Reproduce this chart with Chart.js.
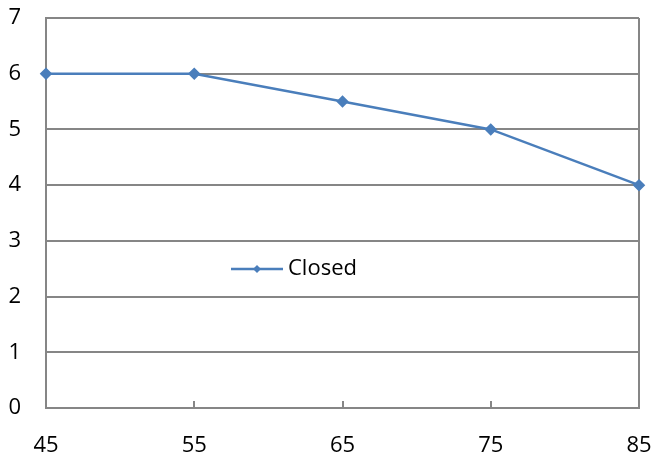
<!DOCTYPE html>
<html><head><meta charset="utf-8">
<script src="https://cdn.jsdelivr.net/npm/chart.js@4"></script>
<style>html,body{margin:0;padding:0;background:#fff}#wrap{width:654px;height:462px}</style>
</head><body><div id="wrap"><canvas id="c" width="654" height="462"></canvas></div>
<script>
const xValues = [45, 55, 65, 75, 85];
const closedValues = [6, 6, 5.5, 5, 4];
const seriesName = 'Closed';
const xTicks = [45, 55, 65, 75, 85];
const yTicks = [0, 1, 2, 3, 4, 5, 6, 7];

const FONT = "'Open Sans', sans-serif";
const LINE = '#4A7EBB';
const GRID = '#868686';

const innerTicks = {
  id: 'innerTicks',
  afterDatasetsDraw(chart) {
    const c = chart.ctx, xs = chart.scales.x, a = chart.chartArea;
    c.save();
    c.strokeStyle = GRID; c.lineWidth = 2;
    xTicks.slice(1, -1).forEach(v => {
      const px = Math.round(xs.getPixelForValue(v));
      c.beginPath(); c.moveTo(px, a.bottom); c.lineTo(px, a.bottom - 7); c.stroke();
    });
    c.restore();
  }
};

const insideLegend = {
  id: 'insideLegend',
  afterDraw(chart) {
    const c = chart.ctx;
    const y = 269, x0 = 231, x1 = 283;
    c.save();
    c.strokeStyle = LINE; c.lineWidth = 2.5;
    c.beginPath(); c.moveTo(x0, y); c.lineTo(x1, y); c.stroke();
    c.fillStyle = LINE;
    const cx = (x0 + x1) / 2, r = 4;
    c.beginPath(); c.moveTo(cx, y - r); c.lineTo(cx + r, y); c.lineTo(cx, y + r); c.lineTo(cx - r, y); c.closePath(); c.fill();
    c.fillStyle = '#000'; c.font = '22px ' + FONT; c.textBaseline = 'middle'; c.textAlign = 'left';
    c.fillText(seriesName, 288, y);
    c.restore();
  }
};

new Chart(document.getElementById('c'), {
  type: 'line',
  data: {
    datasets: [{
      label: seriesName,
      data: xValues.map((x, i) => ({x: x, y: closedValues[i]})),
      borderColor: LINE, backgroundColor: LINE,
      borderWidth: 2.5, pointStyle: 'rectRot', pointRadius: 4.5, pointHoverRadius: 4.5,
      tension: 0, clip: false
    }]
  },
  options: {
    responsive: false, animation: false,
    layout: {autoPadding: false, padding: {top: 18, right: 15, left: 0, bottom: 0}},
    plugins: {legend: {display: false}, tooltip: {enabled: false}},
    scales: {
      x: {
        type: 'linear', min: 45, max: 85,
        afterBuildTicks(s) { s.ticks = xTicks.map(v => ({value: v})); },
        afterFit(s) { s.height = 54; s.paddingLeft = 0; s.paddingRight = 0; },
        grid: {
          color: ctx => (ctx.index === 0 || ctx.index === xTicks.length - 1) ? GRID : 'rgba(0,0,0,0)',
          lineWidth: 2, drawTicks: false
        },
        border: {color: GRID, width: 2},
        ticks: {color: '#000', font: {family: FONT, size: 22}, padding: 25, maxRotation: 0}
      },
      y: {
        min: 0, max: 7,
        afterBuildTicks(s) { s.ticks = yTicks.map(v => ({value: v})); },
        afterFit(s) { s.width = 46; s.paddingTop = 0; s.paddingBottom = 0; },
        grid: {color: GRID, lineWidth: 2, drawTicks: false},
        border: {color: GRID, width: 2},
        ticks: {color: '#000', font: {family: FONT, size: 22}, padding: 25}
      }
    }
  },
  plugins: [innerTicks, insideLegend]
});
</script></body></html>
